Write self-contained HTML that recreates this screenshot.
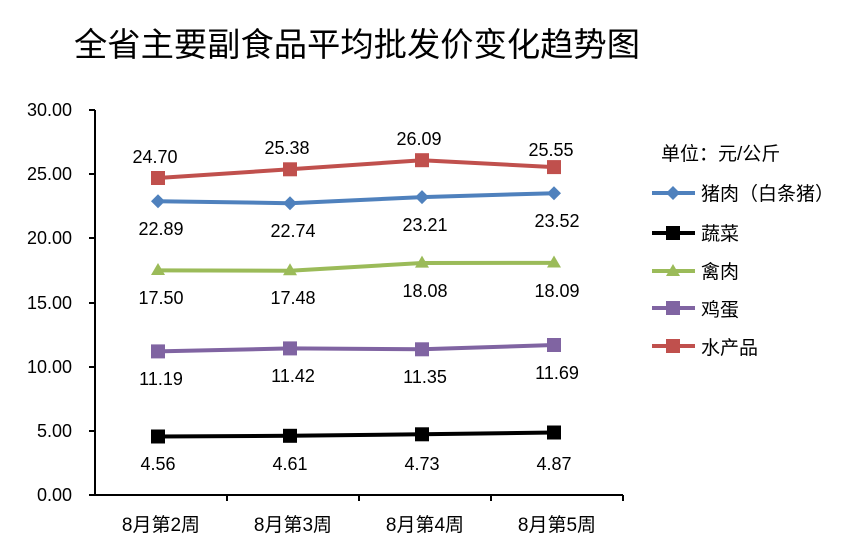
<!DOCTYPE html>
<html><head><meta charset="utf-8"><style>
body{margin:0;background:#fff}
svg{display:block}
text{font-family:"Liberation Sans","Noto Sans CJK SC",sans-serif;fill:#000}
</style></head><body>
<svg width="857" height="555" viewBox="0 0 857 555">
<rect width="857" height="555" fill="#fff"/>
<text x="74" y="56" font-size="33" textLength="566" lengthAdjust="spacingAndGlyphs">全省主要副食品平均批发价变化趋势图</text>
<g stroke="#000" stroke-width="2" fill="none">
<line x1="95" y1="110" x2="95" y2="495"/>
<line x1="95" y1="495" x2="623" y2="495"/>
<path d="M89 110H95M89 174H95M89 238H95M89 303H95M89 367H95M89 431H95M89 495H95"/>
<path d="M227 495V501M359 495V501M491 495V501M623 495V501"/>
</g>
<g font-size="18" text-anchor="end">
<text x="72" y="116">30.00</text><text x="72" y="180">25.00</text><text x="72" y="244">20.00</text>
<text x="72" y="309">15.00</text><text x="72" y="373">10.00</text><text x="72" y="437">5.00</text><text x="72" y="501">0.00</text>
</g>
<g font-size="19" text-anchor="middle">
<text x="161" y="531">8月第2周</text><text x="293" y="531">8月第3周</text><text x="425" y="531">8月第4周</text><text x="557" y="531">8月第5周</text>
</g>
<g stroke-width="4" fill="none">
<polyline stroke="#C0504D" points="158,178 290,169.3 422,160.2 554,167.1"/>
<polyline stroke="#4F81BD" points="158,201.2 290,203.2 422,197.1 554,193.2"/>
<polyline stroke="#9BBB59" points="158,270.4 290,270.7 422,263 554,262.9"/>
<polyline stroke="#8064A2" points="158,351.4 290,348.4 422,349.3 554,345"/>
<polyline stroke="#000" points="158,436.5 290,435.8 422,434.3 554,432.5"/>
</g>
<g fill="#C0504D"><rect x="151" y="171" width="14" height="14"/><rect x="283" y="162.3" width="14" height="14"/><rect x="415" y="153.2" width="14" height="14"/><rect x="547" y="160.1" width="14" height="14"/></g>
<g fill="#4F81BD"><path d="M158 194.2l7 7-7 7-7-7z"/><path d="M290 196.2l7 7-7 7-7-7z"/><path d="M422 190.1l7 7-7 7-7-7z"/><path d="M554 186.2l7 7-7 7-7-7z"/></g>
<g fill="#9BBB59"><path d="M158 263l7 12h-14z"/><path d="M290 263.3l7 12h-14z"/><path d="M422 255.6l7 12h-14z"/><path d="M554 255.5l7 12h-14z"/></g>
<g fill="#8064A2"><rect x="151" y="344.4" width="14" height="14"/><rect x="283" y="341.4" width="14" height="14"/><rect x="415" y="342.3" width="14" height="14"/><rect x="547" y="338" width="14" height="14"/></g>
<g fill="#000"><rect x="151" y="429.5" width="14" height="14"/><rect x="283" y="428.8" width="14" height="14"/><rect x="415" y="427.3" width="14" height="14"/><rect x="547" y="425.5" width="14" height="14"/></g>
<g font-size="18" text-anchor="middle">
<text x="155" y="163">24.70</text><text x="287" y="154">25.38</text><text x="419" y="145">26.09</text><text x="551" y="156">25.55</text>
<text x="161" y="235">22.89</text><text x="293" y="237">22.74</text><text x="425" y="231">23.21</text><text x="557" y="227">23.52</text>
<text x="161" y="304">17.50</text><text x="293" y="304">17.48</text><text x="425" y="297">18.08</text><text x="557" y="297">18.09</text>
<text x="161" y="385">11.19</text><text x="293" y="382">11.42</text><text x="425" y="383">11.35</text><text x="557" y="379">11.69</text>
<text x="158" y="470">4.56</text><text x="290" y="470">4.61</text><text x="422" y="470">4.73</text><text x="554" y="470">4.87</text>
</g>
<g font-size="19">
<text x="661" y="160">单位：元/公斤</text>
<text x="701" y="200">猪肉（白条猪）</text>
<text x="701" y="240">蔬菜</text>
<text x="701" y="278">禽肉</text>
<text x="701" y="316">鸡蛋</text>
<text x="701" y="354">水产品</text>
</g>
<g stroke-width="4">
<line x1="652" y1="193" x2="695" y2="193" stroke="#4F81BD"/><path d="M673 186l7 7-7 7-7-7z" fill="#4F81BD"/>
<line x1="652" y1="233" x2="695" y2="233" stroke="#000"/><rect x="666" y="226" width="14" height="14" fill="#000"/>
<line x1="652" y1="271" x2="695" y2="271" stroke="#9BBB59"/><path d="M673 264l7 12h-14z" fill="#9BBB59"/>
<line x1="652" y1="308" x2="695" y2="308" stroke="#8064A2"/><rect x="666" y="301" width="14" height="14" fill="#8064A2"/>
<line x1="652" y1="346" x2="695" y2="346" stroke="#C0504D"/><rect x="666" y="339" width="14" height="14" fill="#C0504D"/>
</g>
</svg>
</body></html>
